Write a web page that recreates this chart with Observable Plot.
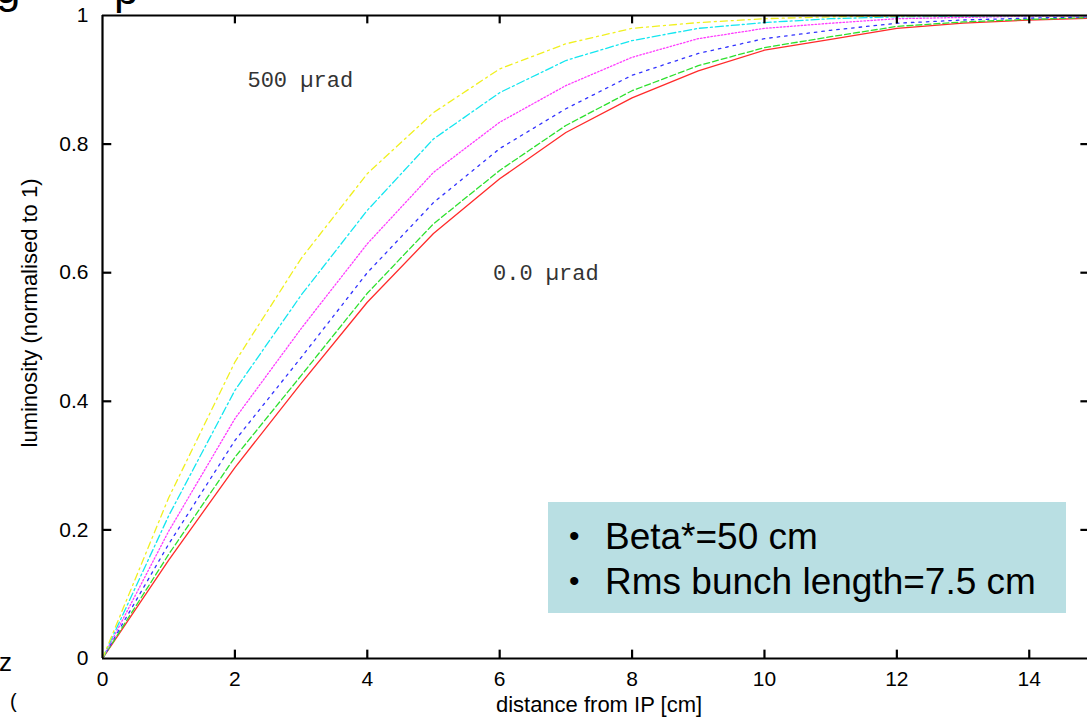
<!DOCTYPE html>
<html>
<head>
<meta charset="utf-8">
<script src="https://cdn.jsdelivr.net/npm/d3@7"></script>
<script src="https://cdn.jsdelivr.net/npm/@observablehq/plot@0.6"></script>
<style>
  html, body { margin: 0; padding: 0; background: #fff; }
  #wrap { position: relative; width: 1087px; height: 718px; overflow: hidden; background: #fff; font-family: "Liberation Sans", Arial, sans-serif; }
  #chart { position: absolute; left: 0; top: 0; }
  .frag { position: absolute; color: #000; font-family: "Liberation Sans", Arial, sans-serif; line-height: 1; }
  #note { position: absolute; left: 548px; top: 502px; width: 518px; height: 111px; background: #b9dfe3; }
  #note span { position: absolute; font-size: 37px; line-height: 1; color: #000; white-space: nowrap; }
</style>
</head>
<body>
<div id="wrap">
  <div id="chart"></div>
  <div class="frag" style="left:-4px; top:-34px; font-size:44px;">g</div>
  <div class="frag" style="left:114px; top:-33px; font-size:44px;">p</div>
  <div class="frag" style="left:-1px; top:649px; font-size:26px;">z</div>
  <div class="frag" style="left:10px; top:691px; font-size:20px;">(</div>
  <div id="note">
    <span style="left:21px; top:16px; font-size:30px; top:19px;">•</span>
    <span style="left:57px; top:16px;">Beta*=50 cm</span>
    <span style="left:21px; top:64px; font-size:30px;">•</span>
    <span style="left:57px; top:61px;">Rms bunch length=7.5 cm</span>
  </div>
</div>
<script>
// distance from IP [cm]
const distance = [0, 1, 2, 3, 4, 5, 6, 7, 8, 9, 10, 11, 12, 13, 14, 15];
// luminosity (normalised to 1) for each crossing angle curve
const lum0   = [0, 0.153, 0.297, 0.428, 0.554, 0.661, 0.746, 0.818, 0.872, 0.914, 0.946, 0.963, 0.980, 0.988, 0.993, 0.996];
const lum100 = [0, 0.162, 0.313, 0.440, 0.568, 0.676, 0.759, 0.829, 0.883, 0.922, 0.950, 0.967, 0.983, 0.990, 0.994, 0.997];
const lum200 = [0, 0.178, 0.339, 0.468, 0.600, 0.709, 0.793, 0.855, 0.907, 0.941, 0.964, 0.977, 0.988, 0.993, 0.996, 0.998];
const lum300 = [0, 0.198, 0.373, 0.513, 0.645, 0.756, 0.834, 0.891, 0.935, 0.964, 0.980, 0.988, 0.995, 0.997, 0.999, 0.999];
const lum400 = [0, 0.222, 0.417, 0.565, 0.697, 0.808, 0.880, 0.930, 0.961, 0.980, 0.989, 0.995, 0.998, 0.999, 1.000, 1.000];
const lum500 = [0, 0.250, 0.461, 0.622, 0.754, 0.849, 0.917, 0.956, 0.980, 0.989, 0.995, 0.998, 0.999, 1.000, 1.000, 1.000];

const xTicks = [0, 2, 4, 6, 8, 10, 12, 14];
const yTicks = [0, 0.2, 0.4, 0.6, 0.8, 1];
const annotations = ["500 µrad", "0.0 µrad"];
const annotX = [2.19, 5.9];
const annotY = [0.899, 0.6];
const xLabel = "distance from IP [cm]";
const yLabel = "luminosity (normalised to 1)";

const seriesValues = [lum0, lum100, lum200, lum300, lum400, lum500];
const seriesStyle = [
  { stroke: "#ff2a2a", dash: null },
  { stroke: "#2ee02e", dash: "6,3" },
  { stroke: "#3333ff", dash: "2.5,5" },
  { stroke: "#ff3cff", dash: "1.5,2" },
  { stroke: "#14e6f0", dash: "8,3,2,3" },
  { stroke: "#f0f020", dash: "7,4,2,4" }
];

const xMax = 14.88;
const lineMarks = seriesValues.map((vals, i) => {
  const data = distance.map((d, j) => ({ x: d, y: vals[j] }));
  const opts = { x: "x", y: "y", stroke: seriesStyle[i].stroke, strokeWidth: 1.3, clip: true };
  if (seriesStyle[i].dash) opts.strokeDasharray = seriesStyle[i].dash;
  return Plot.line(data, opts);
});

const fmt = d => (d === 0 || d === 1) ? String(d) : d.toFixed(1);

const chart = Plot.plot({
  width: 1087,
  height: 718,
  marginLeft: 102,
  marginRight: 0,
  marginTop: 15,
  marginBottom: 60,
  x: { domain: [0, xMax] },
  y: { domain: [0, 1] },
  style: { fontFamily: "'Liberation Sans', Arial, sans-serif", fontSize: "21px", color: "#000", background: "transparent" },
  marks: [
    ...lineMarks,
    // frame (left, bottom, top)
    Plot.ruleX([0], { stroke: "#000", strokeWidth: 2.2 }),
    Plot.ruleY([0, 1], { stroke: "#000", strokeWidth: 2.2 }),
    // inward ticks
    Plot.ruleX(xTicks.filter(d => d > 0), { y1: 0, y2: 0.013, stroke: "#000", strokeWidth: 2.2 }),
    Plot.ruleX(xTicks.filter(d => d > 0), { y1: 1, y2: 0.987, stroke: "#000", strokeWidth: 2.2 }),
    Plot.ruleY(yTicks.filter(d => d > 0 && d < 1), { x1: 0, x2: 0.14, stroke: "#000", strokeWidth: 2.2 }),
    Plot.ruleY(yTicks.filter(d => d > 0 && d < 1), { x1: xMax - 0.1, x2: xMax, stroke: "#000", strokeWidth: 2.2 }),
    // tick labels
    Plot.axisX(xTicks, { tickSize: 0, tickPadding: 13, fontSize: 21, label: null }),
    Plot.axisY(yTicks, { tickSize: 0, tickPadding: 14, tickFormat: fmt, fontSize: 21, label: null }),
    // axis titles
    Plot.text([xLabel], { frameAnchor: "bottom", textAnchor: "middle", dx: 4, dy: 53, fontSize: 22, fill: "#000" }),
    Plot.text([yLabel], { frameAnchor: "left", textAnchor: "middle", dx: -73, dy: -24, rotate: -90, fontSize: 22, fill: "#000" }),
    // curve annotations
    Plot.text(annotations, { x: (d, i) => annotX[i], y: (d, i) => annotY[i], textAnchor: "start", fontFamily: "'Liberation Mono', 'DejaVu Sans Mono', monospace", fontSize: 22, fill: "#333" })
  ]
});
document.getElementById("chart").appendChild(chart);
</script>
</body>
</html>
